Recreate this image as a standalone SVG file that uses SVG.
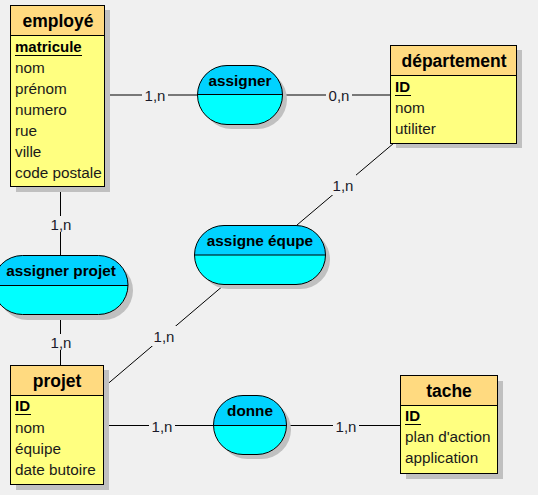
<svg xmlns="http://www.w3.org/2000/svg" width="538" height="495" viewBox="0 0 538 495">
<style>
.bg{fill:#f0f0f0}
.shadow{fill:#c0c0c0}
.hdr{fill:#ffda80;stroke:#000;stroke-width:1}
.body{fill:#ffff80;stroke:#000;stroke-width:1}
.rtop{fill:#00d2ff}
.rbot{fill:#00ffff}
.rout{fill:none;stroke:#000;stroke-width:1}
.title{font-family:"Liberation Sans",Arial,sans-serif;font-size:17.5px;font-weight:bold;fill:#000;text-anchor:middle}
.rname{font-family:"Liberation Sans",Arial,sans-serif;font-size:15.3px;font-weight:bold;fill:#000;text-anchor:middle}
.attr{font-family:"Liberation Sans",Arial,sans-serif;font-size:15.3px;fill:#1a1a1a}
.key{font-family:"Liberation Sans",Arial,sans-serif;font-size:15px;font-weight:bold;fill:#000}
.ul{stroke:#000;stroke-width:1}
.conn line{stroke:#000;stroke-width:1}
.card{font-family:"Liberation Sans",Arial,sans-serif;font-size:15px;fill:#1a1a2a;text-anchor:middle}
.lbg{fill:#f0f0f0}
</style>
<rect class="bg" x="0" y="0" width="538" height="495"/>

<g id="connectors" class="conn">
  <line x1="105" y1="95" x2="197" y2="95"/>
  <line x1="282" y1="95" x2="391" y2="95"/>
  <line x1="60.5" y1="187" x2="60.5" y2="256"/>
  <line x1="60.5" y1="314" x2="60.5" y2="365"/>
  <line x1="394" y1="143" x2="297" y2="225"/>
  <line x1="224" y1="285" x2="104" y2="387"/>
  <line x1="103" y1="425.5" x2="213" y2="425.5"/>
  <line x1="287" y1="425.5" x2="401" y2="425.5"/>
  <rect class="lbg" x="142" y="87" width="26" height="16"/>
  <text class="card" x="155" y="101">1,n</text>
  <rect class="lbg" x="326" y="87" width="26" height="16"/>
  <text class="card" x="339" y="101">0,n</text>
  <rect class="lbg" x="48" y="216" width="26" height="16"/>
  <text class="card" x="61" y="230">1,n</text>
  <rect class="lbg" x="48" y="334" width="26" height="16"/>
  <text class="card" x="61" y="348">1,n</text>
  <rect class="lbg" x="330" y="175" width="26" height="20"/>
  <text class="card" x="343" y="191">1,n</text>
  <rect class="lbg" x="151" y="326" width="26" height="20"/>
  <text class="card" x="164" y="342">1,n</text>
  <rect class="lbg" x="149" y="418" width="26" height="16"/>
  <text class="card" x="162" y="432">1,n</text>
  <rect class="lbg" x="333" y="418" width="26" height="16"/>
  <text class="card" x="346" y="432">1,n</text>
</g>

<g id="employe">
  <rect class="shadow" x="16" y="10" width="94" height="182"/>
  <rect class="body" x="10.5" y="5.5" width="94" height="181"/>
  <rect class="hdr" x="10.5" y="5.5" width="94" height="30"/>
  <text class="title" x="58" y="27">employé</text>
  <text class="key" x="15" y="52">matricule</text>
  <line class="ul" x1="15" y1="55.5" x2="82" y2="55.5"/>
  <text class="attr" x="15" y="73">nom</text>
  <text class="attr" x="15" y="94">prénom</text>
  <text class="attr" x="15" y="115">numero</text>
  <text class="attr" x="15" y="136">rue</text>
  <text class="attr" x="15" y="157">ville</text>
  <text class="attr" x="15" y="178">code postale</text>
</g>

<g id="departement">
  <rect class="shadow" x="396" y="50" width="126" height="98"/>
  <rect class="body" x="390.5" y="45.5" width="126" height="98"/>
  <rect class="hdr" x="390.5" y="45.5" width="126" height="30"/>
  <text class="title" x="454" y="67">département</text>
  <text class="key" x="395" y="92">ID</text>
  <line class="ul" x1="395" y1="95.5" x2="411" y2="95.5"/>
  <text class="attr" x="395" y="113">nom</text>
  <text class="attr" x="395" y="134">utiliter</text>
</g>

<g id="projet">
  <rect class="shadow" x="16" y="370" width="93" height="120"/>
  <rect class="body" x="10.5" y="365.5" width="93" height="119"/>
  <rect class="hdr" x="10.5" y="365.5" width="93" height="30"/>
  <text class="title" x="57" y="387">projet</text>
  <text class="key" x="15" y="411">ID</text>
  <line class="ul" x1="15" y1="414.5" x2="31" y2="414.5"/>
  <text class="attr" x="15" y="433">nom</text>
  <text class="attr" x="15" y="454">équipe</text>
  <text class="attr" x="15" y="475">date butoire</text>
</g>

<g id="tache">
  <rect class="shadow" x="406" y="381" width="97" height="98"/>
  <rect class="body" x="400.5" y="375.5" width="97" height="98"/>
  <rect class="hdr" x="400.5" y="375.5" width="97" height="30"/>
  <text class="title" x="449" y="397">tache</text>
  <text class="key" x="405" y="421">ID</text>
  <line class="ul" x1="405" y1="424.5" x2="421" y2="424.5"/>
  <text class="attr" x="405" y="442">plan d'action</text>
  <text class="attr" x="405" y="463">application</text>
</g>

<g id="assigner">
  <rect class="shadow" x="202" y="70" width="85" height="59" rx="29.5" ry="29.5"/>
  <rect class="rbot" x="197.5" y="65.5" width="85" height="59" rx="29.5" ry="29.5"/>
  <path class="rtop" d="M197.5,95 L197.5,95 A29.5,29.5 0 0 1 227,65.5 L253,65.5 A29.5,29.5 0 0 1 282.5,95 Z"/>
  <rect class="rout" x="197.5" y="65.5" width="85" height="59" rx="29.5" ry="29.5"/>
  <line class="ul" x1="197.5" y1="94.5" x2="282.5" y2="94.5"/>
  <text class="rname" x="240" y="86">assigner</text>
</g>

<g id="assigne-equipe">
  <rect class="shadow" x="199" y="230" width="131" height="59" rx="29.5" ry="29.5"/>
  <rect class="rbot" x="194.5" y="225.5" width="131" height="59" rx="29.5" ry="29.5"/>
  <path class="rtop" d="M194.5,255 A29.5,29.5 0 0 1 224,225.5 L296,225.5 A29.5,29.5 0 0 1 325.5,255 Z"/>
  <rect class="rout" x="194.5" y="225.5" width="131" height="59" rx="29.5" ry="29.5"/>
  <line class="ul" x1="194.5" y1="255" x2="325.5" y2="255"/>
  <text class="rname" x="260" y="246">assigne équpe</text>
</g>

<g id="assigner-projet">
  <rect class="shadow" x="-2" y="261" width="135" height="59" rx="29.5" ry="29.5"/>
  <rect class="rbot" x="-7" y="255.5" width="135" height="59" rx="29.5" ry="29.5"/>
  <path class="rtop" d="M-7,285.5 A29.5,29.5 0 0 1 22.5,255.5 L98.5,255.5 A29.5,29.5 0 0 1 128,285.5 Z"/>
  <rect class="rout" x="-7" y="255.5" width="135" height="59" rx="29.5" ry="29.5"/>
  <line class="ul" x1="-7" y1="285.5" x2="128" y2="285.5"/>
  <text class="rname" x="61" y="276">assigner projet</text>
</g>

<g id="donne">
  <rect class="shadow" x="218" y="400" width="73" height="59" rx="29.5" ry="29.5"/>
  <rect class="rbot" x="213.5" y="395.5" width="73" height="59" rx="29.5" ry="29.5"/>
  <path class="rtop" d="M213.5,425 A29.5,29.5 0 0 1 243,395.5 L257,395.5 A29.5,29.5 0 0 1 286.5,425 Z"/>
  <rect class="rout" x="213.5" y="395.5" width="73" height="59" rx="29.5" ry="29.5"/>
  <line class="ul" x1="213.5" y1="425.5" x2="286.5" y2="425.5"/>
  <text class="rname" x="250" y="416">donne</text>
</g>
</svg>
